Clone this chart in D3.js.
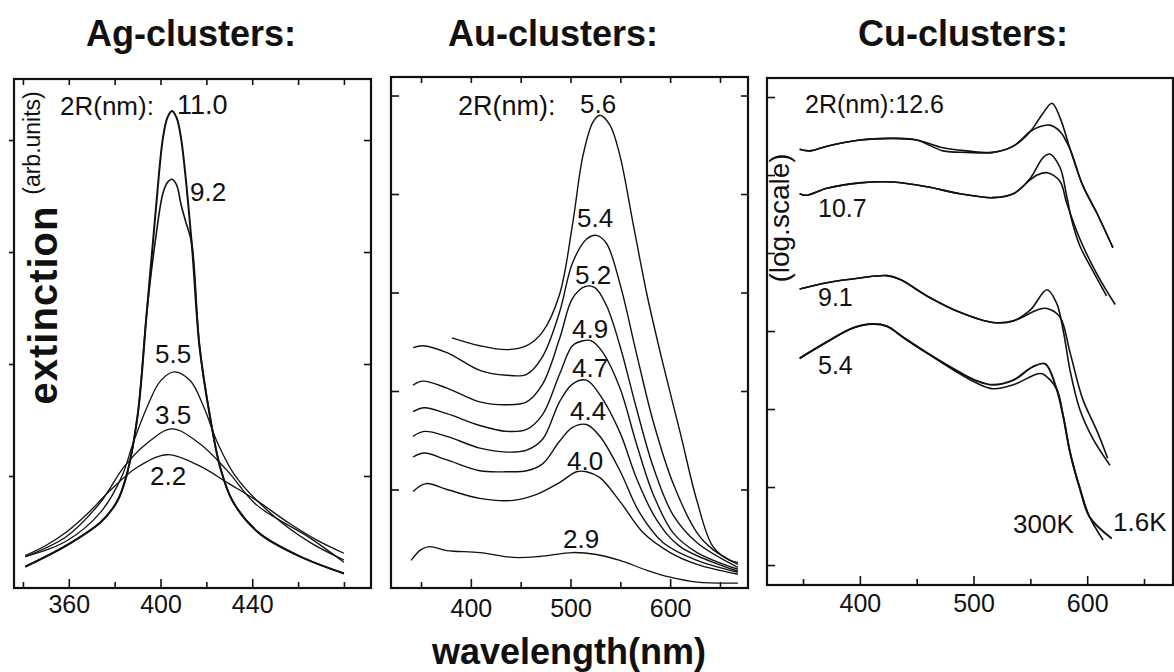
<!DOCTYPE html>
<html><head><meta charset="utf-8">
<script src="https://cdn.jsdelivr.net/npm/d3@7"></script>
<style>
html,body{margin:0;padding:0;background:#fff;}
svg{display:block;font-family:"Liberation Sans",Arial,Helvetica,sans-serif;}
</style></head><body>
<svg id="chart" width="1174" height="672"></svg>
<script>
// ---------------- DATA ----------------
// Ag clusters: extinction (arb. units) vs wavelength (nm); labels = cluster diameter 2R (nm)
const agSizes = ["11.0", "9.2", "5.5", "3.5", "2.2"];
const ag110 = [[341,0.19],[359,0.38],[374,0.59],[381,0.77],[385,0.99],[390,1.54],[394,2.46],[398,3.39],[401,4.01],[403,4.20],[405,4.26],[407,4.20],[409,4.01],[413.6,3.08],[417,2.16],[421.5,1.54],[426,1.08],[431.6,0.77],[443,0.49],[461,0.28],[480,0.13]];
const ag92  = [[341,0.19],[359,0.38],[374,0.59],[381,0.77],[385,0.99],[390,1.54],[394,2.46],[398,3.14],[401,3.52],[403,3.62],[405,3.65],[407,3.60],[409,3.42],[411,3.27],[413.6,3.08],[417,2.16],[421.5,1.54],[426,1.08],[431.6,0.77],[443,0.49],[461,0.28],[480,0.13]];
const ag55  = [[341,0.28],[359,0.42],[374,0.68],[383,0.99],[388,1.29],[394,1.61],[400,1.85],[406,1.93],[413,1.85],[419,1.61],[425,1.29],[433,0.99],[449,0.65],[465,0.41],[480,0.25]];
const ag35  = [[341,0.28],[359,0.46],[374,0.77],[384,1.08],[394,1.29],[405,1.42],[417,1.29],[429,1.05],[442,0.74],[465,0.45],[480,0.23]];
const ag22  = [[341,0.29],[350,0.38],[359,0.50],[368,0.66],[378,0.87],[390,1.08],[403,1.19],[417,1.09],[430,0.93],[442,0.78],[456,0.58],[468,0.43],[480,0.31]];
const agXMajor = [360, 400, 440];
const agXMinor = [340, 380, 420, 460, 480];
const agYTicks = [1, 2, 3, 4];

// Au clusters
const auSizes = ["5.6", "5.4", "5.2", "4.9", "4.7", "4.4", "4.0", "2.9"];
const au56 = [[381,2.54],[409,2.46],[436,2.42],[456,2.46],[472,2.60],[489,2.98],[502,3.69],[512.5,4.39],[522.5,4.73],[529.5,4.80],[539.6,4.70],[549.6,4.39],[563,3.69],[576.7,2.98],[592.7,2.28],[610,1.58],[627,0.88],[643,0.42],[660,0.28],[668,0.26]];
const au54 = [[342,2.44],[352,2.46],[376,2.39],[409,2.21],[436,2.16],[456,2.17],[472,2.35],[489,2.80],[502,3.30],[516,3.54],[526,3.58],[536,3.50],[549.6,3.09],[566,2.39],[583,1.69],[603,1.06],[627,0.56],[643,0.39],[668,0.24]];
const au52 = [[342,2.06],[352,2.10],[376,2.03],[409,1.89],[436,1.86],[456,1.89],[472,2.07],[489,2.53],[502,2.94],[514.5,3.06],[524.5,3.05],[536,2.87],[549.6,2.46],[566,1.83],[583,1.23],[603,0.74],[627,0.46],[668,0.21]];
const au49 = [[342,1.79],[353.5,1.83],[376,1.77],[409,1.65],[436,1.59],[456,1.61],[472,1.76],[489,2.17],[502,2.46],[512.5,2.51],[521,2.51],[532.6,2.39],[549.6,2.03],[566,1.47],[583,0.95],[603,0.56],[627,0.36],[668,0.19]];
const au47 = [[342,1.54],[353.5,1.59],[376,1.54],[409,1.42],[436,1.38],[456,1.40],[472,1.51],[489,1.89],[502,2.07],[516,2.11],[529.5,1.96],[549.6,1.58],[566,1.12],[586,0.70],[610,0.42],[668,0.17]];
const au44 = [[342,1.33],[353.5,1.37],[376,1.30],[409,1.19],[436,1.18],[456,1.19],[472,1.26],[489,1.49],[502,1.63],[516,1.66],[529.5,1.54],[549.6,1.19],[569,0.77],[593,0.46],[627,0.28],[668,0.16]];
const au40 = [[342,0.98],[355,1.06],[376,1.00],[409,0.91],[442.5,0.89],[466,0.95],[489,1.07],[506,1.18],[516,1.18],[529.5,1.12],[549.6,0.88],[573,0.56],[600,0.36],[627,0.24],[668,0.14]];
const au29 = [[340,0.28],[350,0.39],[358.6,0.42],[376,0.38],[409,0.36],[442.5,0.31],[469,0.32],[502,0.36],[526,0.34],[549.6,0.28],[576.7,0.18],[600,0.11],[627,0.06],[668,0.05]];
const auXMajor = [400, 500, 600];
const auXMinor = [350, 450, 550, 650];
const auYTicks = [1, 2, 3, 4, 5];

// Cu clusters (log scale, arb. decades), measured at 300 K and 1.6 K
const cuSizes = ["12.6", "10.7", "9.1", "5.4"];
const cu126_16K  = [[347,5.33],[356,5.31],[371,5.37],[400,5.45],[429,5.47],[450,5.45],[473,5.35],[494,5.31],[517,5.29],[535,5.37],[550,5.56],[561,5.79],[569,5.92],[576,5.74],[585,5.33],[596,4.87],[608.6,4.51],[622.6,4.07]];
const cu126_300K = [[347,5.33],[356,5.31],[371,5.37],[400,5.45],[429,5.47],[450,5.45],[473,5.31],[494,5.29],[517,5.29],[535,5.37],[550,5.56],[558,5.62],[567,5.64],[576,5.56],[585,5.33],[596,4.87],[608.6,4.51],[622.6,4.07]];
const cu107_16K  = [[347,4.76],[353,4.74],[371,4.83],[400,4.90],[429,4.91],[459,4.85],[488,4.76],[517,4.71],[535,4.76],[550,4.96],[561,5.22],[567,5.27],[576,5.10],[582,4.73],[586.6,4.41],[593.6,4.09],[605,3.77],[617,3.45]];
const cu107_300K = [[347,4.76],[353,4.74],[371,4.83],[400,4.90],[429,4.91],[459,4.85],[488,4.76],[517,4.71],[535,4.76],[550,4.94],[556,5.00],[564.6,5.03],[576,4.92],[582,4.64],[593.6,4.18],[608.6,3.73],[624.6,3.34]];
const cu91_16K   = [[347,3.54],[371,3.62],[400,3.68],[424,3.71],[435.6,3.66],[459,3.45],[488,3.24],[517,3.11],[535,3.13],[550,3.27],[564.6,3.53],[573,3.36],[579,3.00],[585,2.49],[593.6,1.99],[605,1.62],[620,1.28]];
const cu91_300K  = [[347,3.54],[371,3.62],[400,3.68],[424,3.71],[435.6,3.66],[459,3.45],[488,3.24],[517,3.11],[535,3.13],[550,3.23],[556,3.27],[564.6,3.29],[576,3.18],[585,2.72],[596,2.13],[608.6,1.72],[618,1.37]];
const cu54_16K   = [[347,2.65],[371,2.86],[394,3.04],[411.6,3.09],[424,3.06],[438,2.92],[459,2.72],[488,2.47],[503,2.36],[517,2.31],[535,2.37],[552,2.54],[563,2.58],[573,2.26],[579,1.90],[585,1.44],[593.6,0.98],[602,0.62],[621.6,0.34]];
const cu54_300K  = [[347,2.65],[371,2.86],[394,3.04],[411.6,3.09],[424,3.06],[438,2.92],[459,2.72],[488,2.45],[503,2.33],[517,2.26],[535,2.31],[556,2.45],[561,2.45],[573,2.26],[579,1.90],[585,1.44],[593.6,0.98],[602,0.62],[614,0.32]];
const cuXMajor = [400, 500, 600];
const cuXMinor = [350, 450, 550, 650];
const cuYTicks = [0, 1, 2, 3, 4, 5, 6];

// ---------------- LAYOUT ----------------
const INK = "#111";
const svg = d3.select("#chart");
svg.append("rect").attr("width",1174).attr("height",672).attr("fill","#fff");

const panels = [
  { box:[14,79,371,588], xd:[336.1,491.8], yd:[0,4.545], series:[ag110,ag92,ag55,ag35,ag22], widths:[2.0,1.6,1.3,1.3,1.3],
    xMajor:agXMajor, xMinor:agXMinor, yTicks:agYTicks, leftOut:true, rightTicks:true, topTicks:true, labelPad:7,
    labels:[["2R(nm):",60,115,26],[agSizes[0],177,114,27],[agSizes[1],190,201,26],[agSizes[2],155,363,26],[agSizes[3],155,424,26],[agSizes[4],150,485,26]] },
  { box:[391,77,748,588], xd:[319.9,678.1], yd:[0,5.188], series:[au56,au54,au52,au49,au47,au44,au40,au29], widths:[1.4,1.4,1.4,1.4,1.4,1.4,1.4,1.3],
    xMajor:auXMajor, xMinor:auXMinor, yTicks:auYTicks, leftOut:false, rightTicks:true, topTicks:true, labelPad:11,
    labels:[["2R(nm):",458,115,27],[auSizes[0],580,113,26],[auSizes[1],577,227,26],[auSizes[2],575,284,26],[auSizes[3],572,338,26],[auSizes[4],572,377,26],[auSizes[5],570,420,26],[auSizes[6],567,470,26],[auSizes[7],563,548,26]] },
  { box:[767,78,1173,585], xd:[318.3,675.5], yd:[-0.256,6.244], series:[cu126_16K,cu126_300K,cu107_16K,cu107_300K,cu91_16K,cu91_300K,cu54_16K,cu54_300K], widths:[1.6,1.6,1.6,1.6,1.6,1.6,2.0,1.6],
    xMajor:cuXMajor, xMinor:cuXMinor, yTicks:cuYTicks, leftOut:false, rightTicks:false, topTicks:false, labelPad:9,
    labels:[["2R(nm):"+cuSizes[0],805,113,25],[cuSizes[1],818,217,25],[cuSizes[2],818,306,25],[cuSizes[3],818,374,25],["300K",1013,533,26],["1.6K",1113,531,26]] }
];

function styleAxis(sel, fontSize){
  sel.select(".domain").remove();
  sel.attr("color", INK);
  sel.selectAll(".tick line").attr("stroke-width",1.6);
  sel.selectAll(".tick text").attr("font-size",fontSize).attr("fill",INK)
     .attr("font-family",'"Liberation Sans",Arial,sans-serif');
}

panels.forEach(p => {
  const [x0,y0,x1,y1] = p.box;
  const x = d3.scaleLinear().domain(p.xd).range([x0,x1]);
  const y = d3.scaleLinear().domain(p.yd).range([y1,y0]);
  const g = svg.append("g");
  const line = d3.line().x(d=>x(d[0])).y(d=>y(d[1])).curve(d3.curveCatmullRom.alpha(0.5));
  p.series.forEach((s,i) => g.append("path").attr("d", line(s)).attr("fill","none")
      .attr("stroke",INK).attr("stroke-width",p.widths[i]).attr("stroke-linejoin","round"));

  // bottom ticks (inward)
  styleAxis(g.append("g").attr("transform",`translate(0,${y1})`)
    .call(d3.axisBottom(x).tickValues(p.xMajor).tickSize(-9).tickPadding(p.labelPad).tickFormat(d3.format("d"))), 25);
  styleAxis(g.append("g").attr("transform",`translate(0,${y1})`)
    .call(d3.axisBottom(x).tickValues(p.xMinor).tickSize(-6).tickFormat("")), 25);
  if (p.topTicks){
    styleAxis(g.append("g").attr("transform",`translate(0,${y0})`)
      .call(d3.axisTop(x).tickValues(p.xMajor.concat(p.xMinor)).tickSize(-6).tickFormat("")), 25);
  }
  // left ticks
  styleAxis(g.append("g").attr("transform",`translate(${x0},0)`)
    .call(d3.axisLeft(y).tickValues(p.yTicks).tickSize(p.leftOut ? 5 : -8).tickFormat("")), 25);
  if (p.rightTicks){
    styleAxis(g.append("g").attr("transform",`translate(${x1},0)`)
      .call(d3.axisRight(y).tickValues(p.yTicks).tickSize(-7).tickFormat("")), 25);
  }
  // frame
  g.append("rect").attr("x",x0).attr("y",y0).attr("width",x1-x0).attr("height",y1-y0)
    .attr("fill","none").attr("stroke",INK).attr("stroke-width",2.2);
  // labels
  g.selectAll("text.lab").data(p.labels).enter().append("text").attr("class","lab")
    .attr("x",d=>d[1]).attr("y",d=>d[2]).attr("font-size",d=>d[3]).attr("fill",INK).text(d=>d[0]);
});

// titles
const titles = [["Ag-clusters:",86],["Au-clusters:",448],["Cu-clusters:",858]];
svg.selectAll("text.title").data(titles).enter().append("text").attr("class","title")
  .attr("x",d=>d[1]).attr("y",46).attr("font-size",36).attr("font-weight","bold").attr("fill",INK).text(d=>d[0]);

// axis titles
svg.append("text").attr("transform","translate(57,305) rotate(-90)").attr("text-anchor","middle")
  .attr("font-size",40).attr("font-weight","bold").attr("letter-spacing",1).attr("fill",INK).text("extinction");
svg.append("text").attr("transform","translate(40,143) rotate(-90)").attr("text-anchor","middle")
  .attr("font-size",23).attr("fill",INK).text("(arb.units)");
svg.append("text").attr("transform","translate(789,218) rotate(-90)").attr("text-anchor","middle")
  .attr("font-size",28).attr("fill",INK).text("(log.scale)");
svg.append("text").attr("x",569).attr("y",664).attr("text-anchor","middle")
  .attr("font-size",36).attr("font-weight","bold").attr("fill",INK).text("wavelength(nm)");
</script>
</body></html>
